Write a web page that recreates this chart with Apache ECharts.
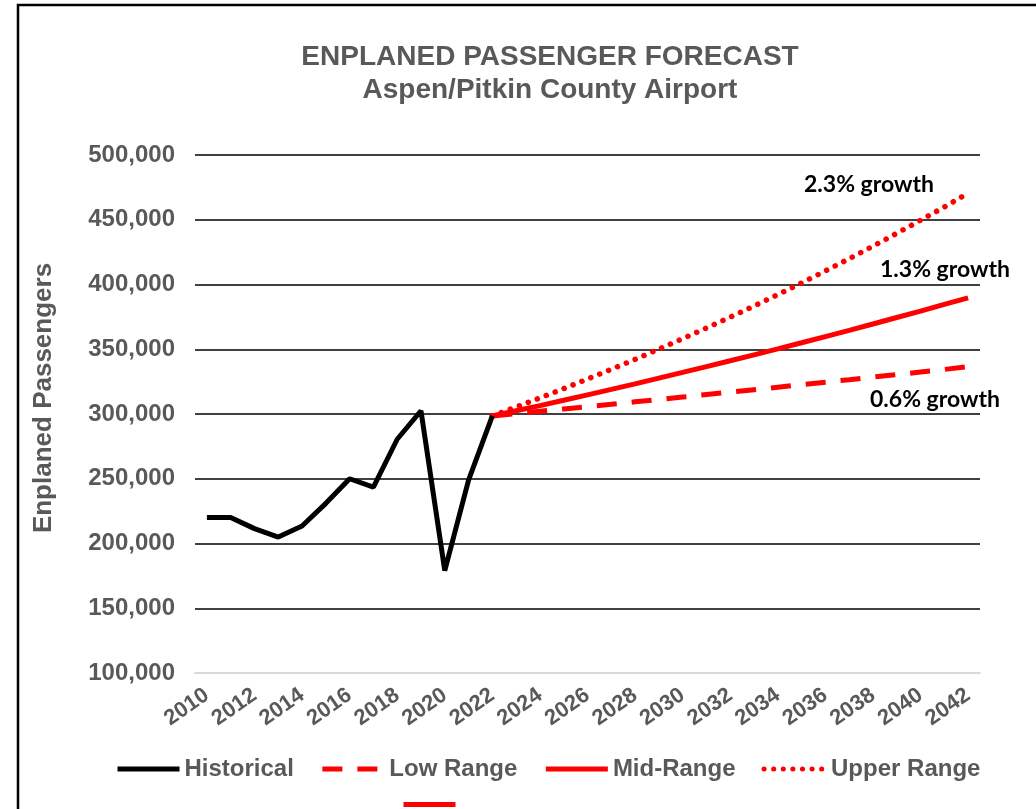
<!DOCTYPE html>
<html>
<head>
<meta charset="utf-8">
<title>Enplaned Passenger Forecast</title>
<script src="https://cdn.jsdelivr.net/npm/echarts@6/dist/echarts.min.js"></script>
<style>
  html, body { margin: 0; padding: 0; background: #fff; }
  #main { width: 1036px; height: 809px; }
</style>
</head>
<body>
<div id="main"></div>
<script>
// years on the x axis
var years = [];
for (var y = 2010; y <= 2042; y++) years.push(String(y));

// historical enplanements 2010-2022
var historical = [220000, 220000, 211500, 205000, 213500, 231000, 250000, 243500, 280500, 302500, 179000, 249000, 298500];

// forecasts 2022-2042
var lowRange = [298500, 300300, 302100, 303900, 305700, 307500, 309400, 311200, 313100, 315000, 316900,
                318800, 320700, 322600, 324600, 326500, 328500, 330400, 332400, 334400, 336500];
var midRange = [298500, 302500, 306500, 310600, 314800, 319000, 323300, 327700, 332100, 336600, 341100,
                345700, 350300, 355000, 359800, 364600, 369500, 374500, 379500, 384600, 389700];
var upperRange = [298500, 305400, 312400, 319600, 327000, 334500, 342200, 350100, 358200, 366400, 374800,
                  383400, 392200, 401200, 410500, 419900, 429600, 439500, 449600, 459900, 470500];

var growthLabels = ['2.3% growth', '1.3% growth', '0.6% growth'];

var gray = '#595959';
var red = '#ff0000';
var font = '"Liberation Sans", Arial, sans-serif';
var noteFont = 'bold 23px Lato, "Open Sans", sans-serif';

// pad a series out to the full year range
function place(values, startYear) {
    var out = [];
    var start = years.indexOf(String(startYear));
    for (var i = 0; i < years.length; i++) {
        var v = values[i - start];
        out.push(v === undefined ? null : v);
    }
    return out;
}

var myChart = echarts.init(document.getElementById('main'));

myChart.setOption({
    animation: false,
    title: {
        text: 'ENPLANED PASSENGER FORECAST\nAspen/Pitkin County Airport',
        left: 545,
        top: 36,
        textAlign: 'center',
        textStyle: { color: gray, fontFamily: font, fontWeight: 'bold', fontSize: 28, lineHeight: 33 }
    },
    grid: { left: 195, right: 56, top: 155, bottom: 136 },
    legend: [{
        data: ['Historical', 'Low Range', 'Mid-Range', 'Upper Range'],
        left: 110,
        top: 752,
        itemWidth: 62,
        itemHeight: 14,
        itemGap: 26,
        itemStyle: { opacity: 0 },
        lineStyle: { width: 5 },
        textStyle: { color: gray, fontFamily: font, fontWeight: 'bold', fontSize: 24 }
    }, {
        data: ['\u00a0'],
        left: 396,
        top: 794,
        itemWidth: 52,
        itemHeight: 14,
        itemStyle: { opacity: 0 },
        lineStyle: { width: 5 },
        textStyle: { color: gray, fontSize: 1 }
    }],
    xAxis: {
        type: 'category',
        data: years,
        boundaryGap: true,
        axisLine: { lineStyle: { color: '#d9d9d9', width: 2 } },
        axisTick: { show: false },
        axisLabel: {
            interval: 1,
            rotate: 35,
            margin: 20,
            color: gray,
            fontFamily: font,
            fontWeight: 'bold',
            fontSize: 22
        }
    },
    yAxis: {
        type: 'value',
        min: 100000,
        max: 500000,
        interval: 50000,
        name: 'Enplaned Passengers',
        nameLocation: 'middle',
        nameGap: 138,
        nameTextStyle: { color: gray, fontFamily: font, fontWeight: 'bold', fontSize: 26, padding: [0, 0, 0, 32] },
        axisLine: { show: false },
        axisTick: { show: false },
        axisLabel: {
            margin: 20,
            color: gray,
            fontFamily: font,
            fontWeight: 'bold',
            fontSize: 24,
            formatter: function (v) { return v.toLocaleString('en-US'); }
        },
        splitLine: {
            lineStyle: {
                color: ['#d9d9d9', '#000', '#000', '#000', '#000', '#000', '#000', '#000', '#000'],
                width: 1.5
            }
        }
    },
    graphic: [
        { type: 'rect', silent: true, z: 100,
          shape: { x: 18, y: 5, width: 1100, height: 900 },
          style: { fill: null, stroke: '#000', lineWidth: 2.5 } },
        { type: 'text', x: 804, y: 185, silent: true,
          style: { text: growthLabels[0], fill: '#000', font: noteFont, textVerticalAlign: 'middle' } },
        { type: 'text', x: 880, y: 270, silent: true,
          style: { text: growthLabels[1], fill: '#000', font: noteFont, textVerticalAlign: 'middle' } },
        { type: 'text', x: 870, y: 400, silent: true,
          style: { text: growthLabels[2], fill: '#000', font: noteFont, textVerticalAlign: 'middle' } }
    ],
    series: [{
        name: 'Historical',
        type: 'line',
        data: place(historical, 2010),
        symbol: 'none',
        z: 5,
        lineStyle: { color: '#000', width: 5 },
        itemStyle: { color: '#000', opacity: 0 }
    }, {
        name: 'Low Range',
        type: 'line',
        data: place(lowRange, 2022),
        symbol: 'none',
        lineStyle: { color: red, width: 5, type: [20, 15] },
        itemStyle: { color: red, opacity: 0 }
    }, {
        name: 'Mid-Range',
        type: 'line',
        data: place(midRange, 2022),
        symbol: 'none',
        lineStyle: { color: red, width: 5 },
        itemStyle: { color: red, opacity: 0 }
    }, {
        name: 'Upper Range',
        type: 'line',
        data: place(upperRange, 2022),
        symbol: 'none',
        lineStyle: { color: red, width: 5.5, type: [0.1, 9.5], cap: 'round' },
        itemStyle: { color: red, opacity: 0 }
    }, {
        name: '\u00a0',
        type: 'line',
        data: [],
        symbol: 'none',
        lineStyle: { color: red, width: 5 },
        itemStyle: { color: red, opacity: 0 }
    }]
});
</script>
</body>
</html>
